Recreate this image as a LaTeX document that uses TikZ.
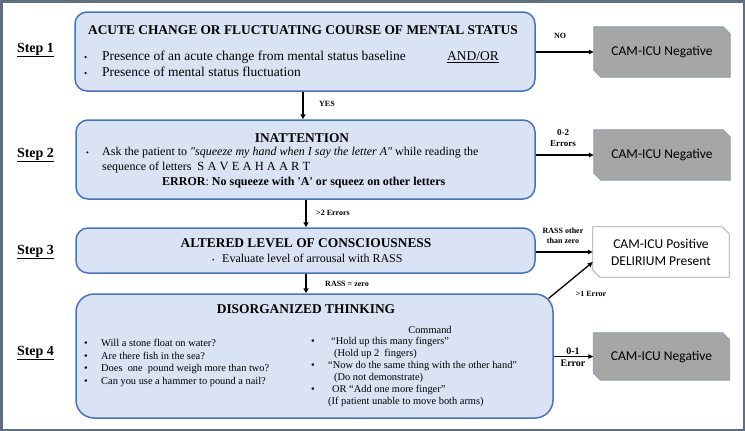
\documentclass[tikz,border=0pt]{standalone}
\usepackage{fontspec}
\setmainfont{Liberation Serif}[Ligatures=TeXOff]
\newfontfamily\calfont{Carlito}
\usetikzlibrary{arrows.meta,backgrounds}
\definecolor{boxblue}{HTML}{DAE3F3}
\definecolor{boxline}{HTML}{4472C4}
\definecolor{grayfill}{HTML}{A6A6A6}
\definecolor{grayline}{HTML}{8497B0}
\definecolor{whiteline}{HTML}{A0A0A0}
\definecolor{framecol}{HTML}{5F6F80}
\newcommand\snipshape[3]{%
  \path[#2] (#1.north west) -- ([xshift=-#3]#1.north east) -- ([yshift=-#3]#1.north east)
    -- (#1.south east) -- ([xshift=#3]#1.south west) -- ([yshift=#3]#1.south west) -- cycle;}
\newcommand\sq{\char"22\relax}
\newcommand\ap{\char"27\relax}
\tikzset{
  bluebox/.style={draw=boxline, fill=boxblue, line width=1.5pt, rounded corners=12pt, inner sep=0pt},
  outbox/.style={inner sep=0pt, minimum width=136pt, minimum height=50pt,
    font=\calfont\fontsize{13.5}{17}\selectfont, align=center},
  title/.style={font=\bfseries\fontsize{13.4}{15}\selectfont, inner sep=0pt},
  txt/.style={anchor=west, inner sep=0pt, text height=0.7em, text depth=0.2em},
  bodyA/.style={txt, font=\fontsize{13.5}{15}\selectfont},
  bodyB/.style={txt, font=\fontsize{12}{14}\selectfont},
  bodyC/.style={txt, font=\fontsize{10.4}{12}\selectfont},
  steplab/.style={font=\bfseries\fontsize{14}{16}\selectfont, inner sep=0pt},
  elab/.style={font=\bfseries\fontsize{8}{9.5}\selectfont, inner sep=0pt, align=center},
  arr/.style={line width=1.3pt, -{Triangle[length=5pt,width=4.5pt]}},
  varr/.style={line width=1.8pt, -{Triangle[length=5pt,width=5pt]}},
}
\begin{document}
\begin{tikzpicture}[x=1pt,y=-1pt]
\useasboundingbox (0,0) rectangle (745,431);

% main boxes
\node[bluebox, minimum width=460pt, minimum height=79pt] (b1) at (305,51.5) {};
\node[bluebox, minimum width=459pt, minimum height=79pt] (b2) at (305.5,159.5) {};
\node[bluebox, minimum width=459pt, minimum height=45pt] (b3) at (305.5,250.5) {};
\node[bluebox, rounded corners=18pt, minimum width=477pt, minimum height=124pt] (b4) at (314.5,356) {};

% outcome boxes
\node[outbox] (n1) at (662,52) {CAM-ICU Negative};
\node[outbox] (n2) at (662,155) {CAM-ICU Negative};
\node[outbox] (w) at (661,252) {CAM-ICU Positive\\DELIRIUM Present};
\node[outbox, minimum height=47pt] (n3) at (661.5,356.5) {CAM-ICU Negative};
\begin{scope}[on background layer]
  \fill[white] (0,0) rectangle (745,431);
  \snipshape{n1}{fill=grayfill, draw=grayline, line width=0.8pt}{7pt}
  \snipshape{n2}{fill=grayfill, draw=grayline, line width=0.8pt}{7pt}
  \snipshape{w}{fill=white, draw=whiteline, line width=0.8pt}{7pt}
  \snipshape{n3}{fill=grayfill, draw=grayline, line width=0.8pt}{7pt}
\end{scope}

% step labels
\node[steplab] (s1) at (35.5,50) {\underline{Step 1}};
\node[steplab] (s2) at (35.5,155) {\underline{Step 2}};
\node[steplab] (s3) at (35.5,252) {\underline{Step 3}};
\node[steplab] (s4) at (35.5,353) {\underline{Step 4}};

% box 1 text
\node[title] (t1) at (303,30) {ACUTE CHANGE OR FLUCTUATING COURSE OF MENTAL STATUS};
\node[bodyA] (b1a) at (84,58) {\small\textbullet};
\node[bodyA] (b1b) at (102,58) {Presence of an acute change from mental status baseline};
\node[bodyA] (b1c) at (447,58) {\underline{AND/OR}};
\node[bodyA] (b1d) at (84,74) {\small\textbullet};
\node[bodyA] (b1e) at (102,74) {Presence of mental status fluctuation};

% box 2 text
\node[title] (t2) at (302,138) {INATTENTION};
\node[bodyB] (b2a) at (86,153) {\footnotesize\textbullet};
\node[bodyB] (b2b) at (102,153) {Ask the patient to \textit{\sq squeeze my hand when I say the letter A\sq} while reading the};
\node[bodyB] (b2c) at (102,168) {sequence of letters\ \ {\fontsize{12.5}{14}\selectfont S A V E A H A A R T}};
\node[bodyB] (b2d) at (162,183) {\textbf{ERROR}: \textbf{No squeeze with \ap A\ap{} or squeez on other letters}};

% box 3 text
\node[title] (t3) at (306,243) {ALTERED LEVEL OF CONSCIOUSNESS};
\node[bodyB] (b3a) at (212,260) {\scriptsize\textbullet};
\node[bodyB] (b3b) at (222,260) {Evaluate level of arrousal with RASS};

% box 4 text
\node[title] (t4) at (306,309) {DISORGANIZED THINKING};
\node[bodyC] (l1a) at (84,344) {\textbullet};
\node[bodyC] (l1b) at (101,344) {Will a stone float on water?};
\node[bodyC] (l2a) at (84,356.5) {\textbullet};
\node[bodyC] (l2b) at (101,356.5) {Are there fish in the sea?};
\node[bodyC] (l3a) at (84,369) {\textbullet};
\node[bodyC] (l3b) at (101,369) {Does\ \ one\ \ pound weigh more than two?};
\node[bodyC] (l4a) at (84,381.5) {\textbullet};
\node[bodyC] (l4b) at (101,381.5) {Can you use a hammer to pound a nail?};
\node[bodyC, anchor=center] (cmd) at (430,331) {Command};
\node[bodyC] (r1a) at (311,342) {\textbullet};
\node[bodyC] (r1b) at (331,342) {“Hold up this many fingers”};
\node[bodyC] (r1c) at (334,354) {(Hold up 2\ \ fingers)};
\node[bodyC] (r2a) at (311,366) {\textbullet};
\node[bodyC] (r2b) at (328,366) {“Now do the same thing with the other hand”};
\node[bodyC] (r2c) at (334,378) {(Do not demonstrate)};
\node[bodyC] (r3a) at (311,390) {\textbullet};
\node[bodyC] (r3b) at (332,390) {OR “Add one more finger”};
\node[bodyC] (r3c) at (328,402) {(If patient unable to move both arms)};

% connectors
\draw[arr] (b1.east |- n1.west) -- (n1.west);
\draw[arr] (b2.east |- n2.west) -- (n2.west);
\draw[arr] (b3.east |- w.west) -- (w.west);
\draw[arr] ([xshift=-5.27pt,yshift=-5.27pt]b4.north east) -- ([yshift=-10pt]w.west);
\draw[arr] (b4.east |- n3.west) -- (n3.west);
\draw[varr] ([xshift=-2pt]b1.south) -- ([xshift=-2.5pt]b2.north);
\draw[varr] ([xshift=0.5pt]b2.south) -- ([xshift=0.5pt]b2.south |- b3.north);
\draw[varr] ([xshift=0.5pt]b3.south) -- ([xshift=0.5pt]b3.south |- b4.north);

% edge labels
\node[elab] (e1) at (560,36) {NO};
\node[elab, font=\bfseries\fontsize{9}{11}\selectfont] (e2) at (563,138) {0-2\\Errors};
\node[elab] (e3) at (327,104) {YES};
\node[elab] (e4) at (333,213) {>2 Errors};
\node[elab] (e5) at (347,284) {RASS = zero};
\node[elab] (e6) at (563,236) {RASS other\\than zero};
\node[elab] (e7) at (591,294) {>1 Error};
\node[elab, font=\bfseries\fontsize{10}{12.5}\selectfont] (e8) at (573,357) {0-1\\Error};

% frame
\draw[framecol, line width=2.5pt] (1.25,1.25) rectangle (743.75,429.75);
\end{tikzpicture}
\end{document}
